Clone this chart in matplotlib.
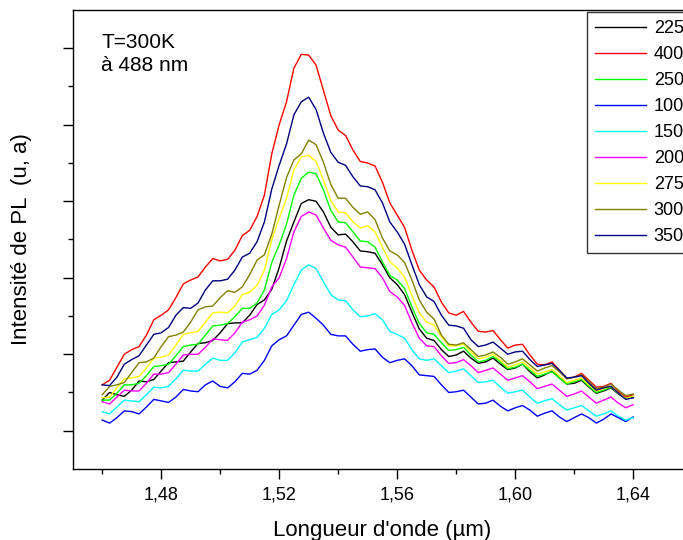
import matplotlib
matplotlib.use('Agg')
import matplotlib.pyplot as plt
import numpy as np

plt.rcParams['font.family'] = ['Liberation Sans', 'DejaVu Sans']

# wavelength grid (µm), one reading every 0.0025 µm
wavelength = [1.4600, 1.4625, 1.4650, 1.4675, 1.4700, 1.4725, 1.4750, 1.4775,
              1.4800, 1.4825, 1.4850, 1.4875, 1.4900, 1.4925, 1.4950, 1.4975,
              1.5000, 1.5025, 1.5050, 1.5075, 1.5100, 1.5125, 1.5150, 1.5175,
              1.5200, 1.5225, 1.5250, 1.5275, 1.5300, 1.5325, 1.5350, 1.5375,
              1.5400, 1.5425, 1.5450, 1.5475, 1.5500, 1.5525, 1.5550, 1.5575,
              1.5600, 1.5625, 1.5650, 1.5675, 1.5700, 1.5725, 1.5750, 1.5775,
              1.5800, 1.5825, 1.5850, 1.5875, 1.5900, 1.5925, 1.5950, 1.5975,
              1.6000, 1.6025, 1.6050, 1.6075, 1.6100, 1.6125, 1.6150, 1.6175,
              1.6200, 1.6225, 1.6250, 1.6275, 1.6300, 1.6325, 1.6350, 1.6375,
              1.6400]

# PL intensity (arbitrary units)
pl_225 = [1.40, 1.50, 1.47, 1.45, 1.53, 1.65, 1.64, 1.67, 1.78, 1.89, 1.90, 1.91,
          2.03, 2.14, 2.15, 2.18, 2.28, 2.40, 2.41, 2.41, 2.51, 2.65, 2.71, 2.85,
          3.13, 3.48, 3.73, 3.97, 4.02, 4.00, 3.86, 3.66, 3.56, 3.57, 3.47, 3.35,
          3.34, 3.32, 3.17, 3.00, 2.91, 2.78, 2.55, 2.33, 2.21, 2.18, 2.06, 1.97,
          1.99, 2.04, 1.95, 1.88, 1.90, 1.95, 1.87, 1.80, 1.82, 1.87, 1.77, 1.69,
          1.73, 1.78, 1.69, 1.61, 1.62, 1.66, 1.57, 1.49, 1.52, 1.56, 1.48, 1.42,
          1.44]
pl_400 = [1.60, 1.66, 1.83, 2.00, 2.06, 2.10, 2.25, 2.45, 2.51, 2.58, 2.74, 2.92,
          2.97, 3.01, 3.14, 3.25, 3.22, 3.24, 3.36, 3.55, 3.62, 3.80, 4.08, 4.62,
          5.00, 5.30, 5.74, 5.92, 5.91, 5.78, 5.45, 5.12, 4.93, 4.86, 4.67, 4.52,
          4.50, 4.46, 4.25, 3.98, 3.82, 3.66, 3.36, 3.10, 2.97, 2.88, 2.68, 2.54,
          2.51, 2.56, 2.42, 2.30, 2.29, 2.31, 2.19, 2.08, 2.12, 2.13, 1.99, 1.87,
          1.86, 1.90, 1.79, 1.68, 1.70, 1.75, 1.66, 1.57, 1.58, 1.62, 1.51, 1.44,
          1.47]
pl_250 = [1.40, 1.40, 1.49, 1.60, 1.60, 1.62, 1.72, 1.84, 1.85, 1.87, 1.98, 2.10,
          2.12, 2.13, 2.25, 2.37, 2.38, 2.40, 2.49, 2.60, 2.60, 2.67, 2.84, 3.20,
          3.43, 3.70, 4.08, 4.30, 4.38, 4.36, 4.15, 3.88, 3.73, 3.72, 3.60, 3.48,
          3.47, 3.40, 3.21, 3.03, 2.97, 2.86, 2.62, 2.40, 2.28, 2.26, 2.15, 2.05,
          2.06, 2.09, 1.99, 1.90, 1.92, 1.97, 1.90, 1.81, 1.83, 1.87, 1.79, 1.71,
          1.74, 1.77, 1.69, 1.61, 1.64, 1.67, 1.58, 1.50, 1.53, 1.57, 1.49, 1.42,
          1.45]
pl_100 = [1.14, 1.10, 1.17, 1.26, 1.25, 1.22, 1.31, 1.41, 1.39, 1.37, 1.44, 1.54,
          1.52, 1.51, 1.60, 1.65, 1.58, 1.56, 1.64, 1.75, 1.74, 1.79, 1.92, 2.11,
          2.19, 2.24, 2.38, 2.52, 2.55, 2.47, 2.38, 2.26, 2.24, 2.24, 2.13, 2.04,
          2.06, 2.07, 1.96, 1.89, 1.92, 1.94, 1.85, 1.73, 1.72, 1.71, 1.60, 1.50,
          1.51, 1.53, 1.44, 1.35, 1.36, 1.40, 1.32, 1.26, 1.30, 1.33, 1.27, 1.19,
          1.23, 1.26, 1.18, 1.12, 1.17, 1.22, 1.17, 1.10, 1.15, 1.22, 1.17, 1.12,
          1.18]
pl_150 = [1.25, 1.22, 1.31, 1.40, 1.39, 1.38, 1.47, 1.57, 1.56, 1.58, 1.68, 1.79,
          1.78, 1.78, 1.87, 1.95, 1.92, 1.92, 2.02, 2.16, 2.19, 2.22, 2.34, 2.52,
          2.58, 2.70, 2.91, 3.10, 3.17, 3.12, 2.95, 2.78, 2.71, 2.70, 2.58, 2.49,
          2.50, 2.53, 2.45, 2.30, 2.26, 2.21, 2.06, 1.94, 1.92, 1.94, 1.85, 1.76,
          1.78, 1.81, 1.72, 1.63, 1.64, 1.66, 1.57, 1.49, 1.51, 1.53, 1.44, 1.36,
          1.39, 1.42, 1.34, 1.27, 1.30, 1.33, 1.26, 1.19, 1.22, 1.26, 1.19, 1.14,
          1.17]
pl_200 = [1.38, 1.35, 1.44, 1.53, 1.52, 1.52, 1.62, 1.74, 1.74, 1.76, 1.87, 1.99,
          2.00, 2.00, 2.09, 2.20, 2.19, 2.18, 2.28, 2.42, 2.45, 2.50, 2.64, 2.88,
          3.00, 3.25, 3.60, 3.80, 3.86, 3.82, 3.65, 3.49, 3.43, 3.40, 3.27, 3.14,
          3.13, 3.12, 3.00, 2.82, 2.75, 2.64, 2.41, 2.21, 2.11, 2.10, 1.98, 1.88,
          1.89, 1.93, 1.85, 1.76, 1.79, 1.82, 1.74, 1.66, 1.69, 1.72, 1.64, 1.55,
          1.58, 1.61, 1.53, 1.45, 1.48, 1.52, 1.44, 1.36, 1.40, 1.44, 1.36, 1.30,
          1.34]
pl_275 = [1.43, 1.44, 1.56, 1.68, 1.69, 1.71, 1.82, 1.95, 1.96, 1.99, 2.12, 2.26,
          2.28, 2.30, 2.42, 2.54, 2.55, 2.54, 2.63, 2.78, 2.81, 2.90, 3.10, 3.50,
          3.78, 4.04, 4.41, 4.58, 4.60, 4.52, 4.28, 4.01, 3.86, 3.85, 3.73, 3.65,
          3.68, 3.60, 3.40, 3.21, 3.13, 3.01, 2.77, 2.54, 2.42, 2.38, 2.23, 2.11,
          2.11, 2.13, 2.03, 1.94, 1.96, 2.00, 1.92, 1.83, 1.86, 1.90, 1.82, 1.74,
          1.77, 1.80, 1.72, 1.63, 1.66, 1.69, 1.60, 1.52, 1.55, 1.58, 1.49, 1.42,
          1.45]
pl_300 = [1.47, 1.58, 1.60, 1.63, 1.76, 1.89, 1.90, 1.95, 2.10, 2.23, 2.25, 2.29,
          2.42, 2.58, 2.62, 2.63, 2.74, 2.83, 2.81, 2.88, 3.04, 3.23, 3.30, 3.57,
          3.95, 4.31, 4.54, 4.62, 4.80, 4.74, 4.51, 4.22, 4.04, 4.04, 3.92, 3.83,
          3.86, 3.76, 3.52, 3.35, 3.30, 3.20, 2.97, 2.71, 2.55, 2.46, 2.25, 2.13,
          2.12, 2.15, 2.06, 1.97, 1.99, 2.03, 1.96, 1.87, 1.90, 1.94, 1.86, 1.78,
          1.82, 1.85, 1.77, 1.68, 1.70, 1.73, 1.64, 1.55, 1.57, 1.61, 1.53, 1.46,
          1.48]
pl_350 = [1.60, 1.59, 1.70, 1.87, 1.93, 1.98, 2.12, 2.26, 2.28, 2.35, 2.51, 2.61,
          2.60, 2.67, 2.84, 2.96, 2.96, 2.98, 3.10, 3.27, 3.32, 3.47, 3.73, 4.16,
          4.47, 4.75, 5.13, 5.30, 5.36, 5.20, 4.89, 4.64, 4.51, 4.47, 4.32, 4.20,
          4.19, 4.15, 3.98, 3.73, 3.60, 3.44, 3.17, 2.91, 2.75, 2.69, 2.51, 2.38,
          2.37, 2.34, 2.19, 2.10, 2.12, 2.16, 2.08, 2.00, 2.03, 2.04, 1.93, 1.84,
          1.86, 1.88, 1.79, 1.69, 1.70, 1.72, 1.62, 1.53, 1.56, 1.58, 1.49, 1.41,
          1.43]

series = [pl_225, pl_400, pl_250, pl_100, pl_150, pl_200, pl_275, pl_300, pl_350]
labels = ['225', '400', '250', '100', '150', '200', '275', '300', '350']
colors = ['#000000', '#FF0000', '#00FF00', '#0000FF', '#00FFFF',
          '#FF00FF', '#FFFF00', '#808000', '#000080']

xticks = [1.48, 1.52, 1.56, 1.60, 1.64]
xtick_labels = ['1,48', '1,52', '1,56', '1,60', '1,64']

fig = plt.figure(figsize=(6.83, 5.4), dpi=100)
# the right part of the axes runs past the figure edge, as in the original
ax = fig.add_axes([0.1064, 0.1315, 0.907, 0.85])

for y, lab, c in zip(series, labels, colors):
    ax.plot(wavelength, y, color=c, lw=1.0, label=lab)

ax.set_xlim(1.45, 1.66)
ax.set_ylim(0.5, 6.5)

ax.set_xticks(xticks)
ax.set_xticklabels(xtick_labels, fontsize=13)
ax.set_xticks(np.arange(1.46, 1.65, 0.04), minor=True)
ax.set_yticks(np.arange(1, 7, 1))
ax.set_yticklabels([])
ax.set_yticks(np.arange(1.5, 6.0, 1), minor=True)
ax.tick_params(which='major', direction='out', length=7.5, width=1, pad=5)
ax.tick_params(which='minor', direction='out', length=3.6, width=1)

ax.spines['right'].set_visible(False)
for s in ['left', 'top', 'bottom']:
    ax.spines[s].set_linewidth(1.0)

ax.set_xlabel("Longueur d'onde (µm)", fontsize=16)
ax.xaxis.label.set_va('center')
ax.xaxis.set_label_coords(0.5, -0.133)
ax.set_ylabel('Intensité de PL  (u, a)', fontsize=16)
ax.yaxis.label.set_va('center')
ax.yaxis.set_label_coords(-0.082, 0.5)

ax.text(0.046, 0.95, 'T=300K\nà 488 nm', transform=ax.transAxes,
        fontsize=15, va='top', ha='left', linespacing=1.3)

leg = ax.legend(loc='upper left', bbox_to_anchor=(0.830, 0.996), fontsize=13,
                frameon=True, fancybox=False, borderaxespad=0, borderpad=0.45,
                handlelength=2.8, handletextpad=0.45, labelspacing=0.5)
leg.get_frame().set_edgecolor('#333333')
leg.get_frame().set_linewidth(1.0)
leg.get_frame().set_alpha(1)

fig.savefig('out.png', dpi=100)
